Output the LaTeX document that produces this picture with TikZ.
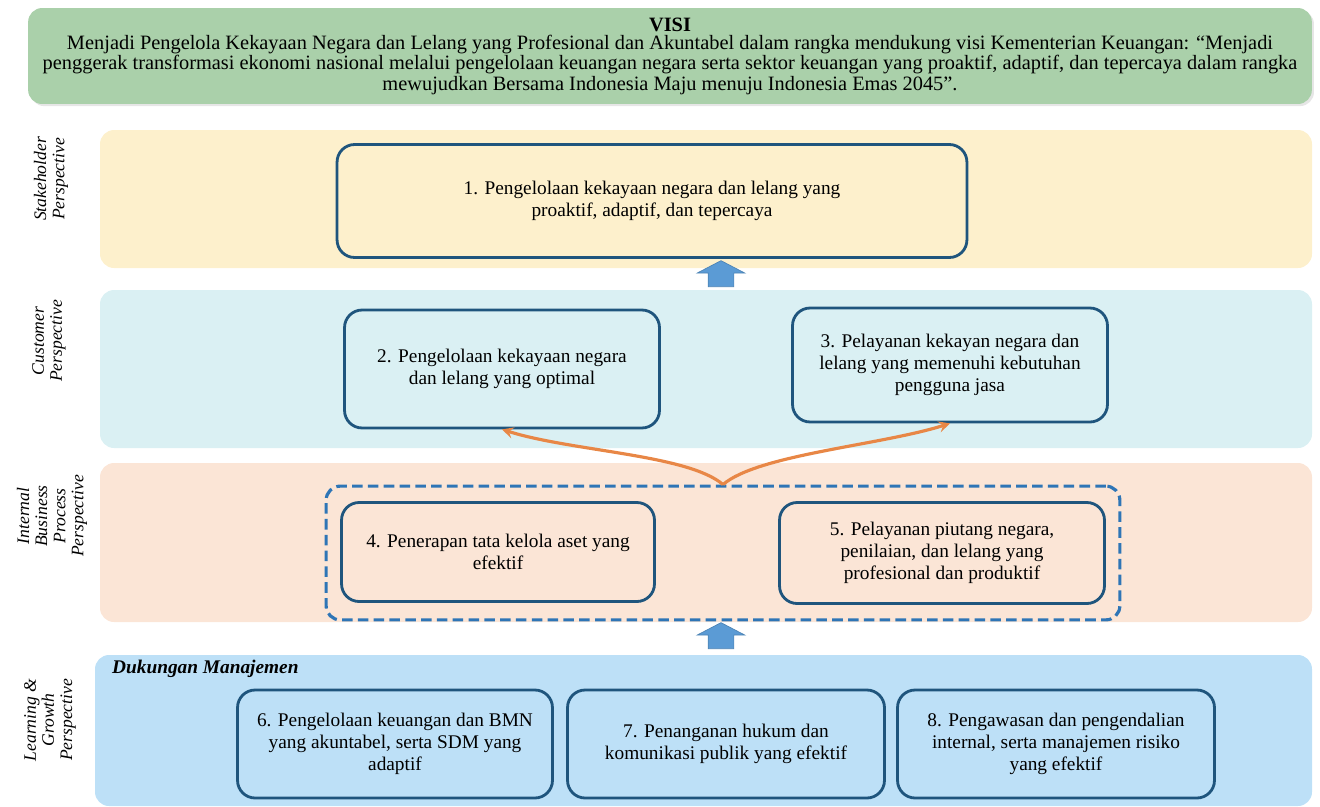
\documentclass[tikz,border=0pt]{standalone}
\usepackage{fontspec}
\setmainfont{Liberation Serif}
\usetikzlibrary{arrows,positioning,shapes,fit,shadows}
\usepackage{xcolor}

\definecolor{visigreen}{RGB}{170,208,170}
\definecolor{stakeyellow}{RGB}{253,240,204}
\definecolor{custcyan}{RGB}{218,240,243}
\definecolor{intpeach}{RGB}{251,229,214}
\definecolor{learnblue}{RGB}{189,224,247}
\definecolor{goalblue}{RGB}{31,85,125}
\definecolor{arrowblue}{RGB}{91,155,213}
\definecolor{dashblue}{RGB}{46,117,182}
\definecolor{floworange}{RGB}{232,135,70}

\begin{document}
\begin{tikzpicture}[x=0.02cm,y=-0.02cm,
    goal/.style={draw=goalblue,line width=1.6pt,rounded corners=10pt,align=center,
      minimum width=6.3cm,minimum height=2.2cm,inner sep=0pt,font=\fontsize{11}{12.5}\selectfont},
    band/.style={rounded corners=8pt},
    persp/.style={rotate=90,align=center,font=\fontsize{10}{10.3}\selectfont\itshape},
    uparrow/.style={single arrow,rotate=90,fill=arrowblue,draw=arrowblue!85!black,line width=0.4pt,
      inner xsep=0pt,inner ysep=0.25cm,single arrow head extend=0.22cm,
      single arrow tip angle=125,minimum height=0.52cm},
    flow/.style={->,>=stealth,draw=floworange,line width=1.8pt}]
  \useasboundingbox (0,0) rectangle (1320,806);

  % vision
  \node (visi) [fill=visigreen,rounded corners=8pt,drop shadow={opacity=0.2,shadow xshift=1.2pt,shadow yshift=-1.2pt},
    align=center,minimum width=25.68cm,minimum height=1.92cm,font=\fontsize{11.6}{10.4}\selectfont] at (670,56)
    {\textbf{VISI}\\Menjadi Pengelola Kekayaan Negara dan Lelang yang Profesional dan Akuntabel dalam rangka mendukung visi Kementerian Keuangan: “Menjadi\\
     penggerak transformasi ekonomi nasional melalui pengelolaan keuangan negara serta sektor keuangan yang proaktif, adaptif, dan tepercaya dalam rangka\\
     mewujudkan Bersama Indonesia Maju menuju Indonesia Emas 2045”.};

  % perspective bands
  \fill[band,stakeyellow] (100,130) rectangle (1312,268);
  \fill[band,custcyan] (100,290) rectangle (1312,448);
  \fill[band,intpeach] (100,463) rectangle (1312,622);
  \fill[band,learnblue] (95,655) rectangle (1312,806);

  \node (p1) [persp] at (51,179) {Stakeholder\\Perspective};
  \node (p2) [persp] at (49,341) {Customer\\Perspective};
  \node (p3) [persp] at (52,516) {Internal\\Business\\Process\\Perspective};
  \node (p4) [persp] at (50,720) {Learning \&\\Growth\\Perspective};

  % objectives
  \node (b1) [goal,minimum width=12.6cm,minimum height=2.26cm] at (652,201) {1. Pengelolaan kekayaan negara dan lelang yang\\proaktif, adaptif, dan tepercaya};
  \node (b2) [goal,minimum height=2.36cm] at (502,369) {2. Pengelolaan kekayaan negara\\dan lelang yang optimal};
  \node (b3) [goal,minimum height=2.28cm] at (950,365) {3. Pelayanan kekayan negara dan\\lelang yang memenuhi kebutuhan\\pengguna jasa};
  \node (b4) [goal,minimum width=6.26cm,minimum height=1.98cm] at (498,552) {4. Penerapan tata kelola aset yang\\efektif};
  \node (b5) [goal,minimum width=6.5cm,minimum height=2.02cm] at (942,553) {5. Pelayanan piutang negara,\\penilaian, dan lelang yang\\profesional dan produktif};
  \node (grp) [draw=dashblue,dashed,dash pattern=on 6pt off 3pt,line width=1.8pt,rounded corners=8pt,
    fit=(b4)(b5),inner xsep=0.28cm,inner ysep=0.3cm] {};

  \node (dm) [anchor=west,font=\fontsize{11}{13}\selectfont\bfseries\itshape] at (106,669) {Dukungan Manajemen};
  \node (b6) [goal,minimum height=2.16cm] at (395,744) {6. Pengelolaan keuangan dan BMN\\yang akuntabel, serta SDM yang\\adaptif};
  \node (b7) [goal,minimum width=6.34cm,minimum height=2.16cm] at (726,744) {7. Penanganan hukum dan\\komunikasi publik yang efektif};
  \node (b8) [goal,minimum width=6.34cm,minimum height=2.16cm] at (1056,744) {8. Pengawasan dan pengendalian\\internal, serta manajemen risiko\\yang efektif};

  % links
  \node (arr1) [uparrow] at (721,277) {};
  \node (arr2) [uparrow] at (721,639) {};
  \draw[flow] (grp.north) .. controls +(-35,-30) and +(70,22) .. (b2.south);
  \draw[flow] (grp.north) .. controls +(35,-30) and +(-70,22) .. (b3.south);
\end{tikzpicture}
\end{document}
